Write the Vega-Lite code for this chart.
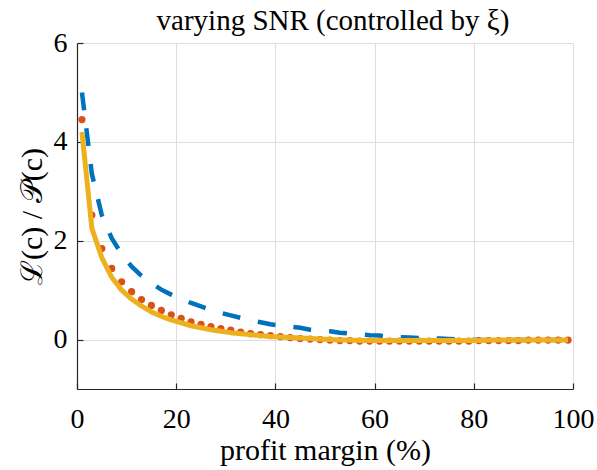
{
  "$schema": "https://vega.github.io/schema/vega-lite/v6.json",
  "autosize": {"type": "none"},
  "width": 496,
  "height": 346,
  "padding": {"left": 77, "top": 43, "right": 24, "bottom": 81},
  "background": "white",
  "title": {"text": "varying SNR (controlled by ξ)", "font": "Liberation Serif, serif", "fontSize": 29, "fontWeight": "normal", "color": "#000000", "offset": -7, "anchor": "middle", "dx": 8},
  "config": {
    "font": "Liberation Serif, serif",
    "view": {"stroke": null},
    "axis": {
      "domainColor": "#262626", "domainWidth": 1.2,
      "tickColor": "#262626", "tickSize": -6, "tickWidth": 1.2,
      "gridColor": "#dedede", "gridWidth": 1,
      "labelFont": "Liberation Serif, serif", "labelFontSize": 28, "labelColor": "#000000",
      "titleFont": "Liberation Serif, serif", "titleFontSize": 30, "titleFontWeight": "normal", "titleColor": "#000000"
    }
  },
  "data": {"values": [
    {"x": 1, "blue": 5.00, "orange": 4.45, "yellow": 4.20},
    {"x": 3, "blue": 3.35, "orange": 2.52, "yellow": 2.25},
    {"x": 5, "blue": 2.52, "orange": 1.84, "yellow": 1.66},
    {"x": 7, "blue": 2.05, "orange": 1.44, "yellow": 1.26},
    {"x": 9, "blue": 1.73, "orange": 1.17, "yellow": 1.00},
    {"x": 11, "blue": 1.48, "orange": 0.97, "yellow": 0.82},
    {"x": 13, "blue": 1.29, "orange": 0.81, "yellow": 0.68},
    {"x": 15, "blue": 1.14, "orange": 0.69, "yellow": 0.56},
    {"x": 17, "blue": 1.01, "orange": 0.59, "yellow": 0.47},
    {"x": 19, "blue": 0.91, "orange": 0.50, "yellow": 0.40},
    {"x": 21, "blue": 0.82, "orange": 0.43, "yellow": 0.34},
    {"x": 23, "blue": 0.74, "orange": 0.36, "yellow": 0.28},
    {"x": 25, "blue": 0.67, "orange": 0.31, "yellow": 0.24},
    {"x": 27, "blue": 0.60, "orange": 0.26, "yellow": 0.20},
    {"x": 29, "blue": 0.54, "orange": 0.22, "yellow": 0.17},
    {"x": 31, "blue": 0.49, "orange": 0.19, "yellow": 0.14},
    {"x": 33, "blue": 0.44, "orange": 0.15, "yellow": 0.12},
    {"x": 35, "blue": 0.39, "orange": 0.12, "yellow": 0.10},
    {"x": 37, "blue": 0.35, "orange": 0.10, "yellow": 0.08},
    {"x": 39, "blue": 0.31, "orange": 0.08, "yellow": 0.06},
    {"x": 41, "blue": 0.28, "orange": 0.06, "yellow": 0.05},
    {"x": 43, "blue": 0.26, "orange": 0.04, "yellow": 0.04},
    {"x": 45, "blue": 0.24, "orange": 0.02, "yellow": 0.03},
    {"x": 47, "blue": 0.20, "orange": 0.01, "yellow": 0.02},
    {"x": 49, "blue": 0.18, "orange": 0.00, "yellow": 0.01},
    {"x": 51, "blue": 0.17, "orange": -0.01, "yellow": 0.00},
    {"x": 53, "blue": 0.14, "orange": -0.02, "yellow": -0.01},
    {"x": 55, "blue": 0.12, "orange": -0.02, "yellow": -0.01},
    {"x": 57, "blue": 0.11, "orange": -0.03, "yellow": -0.02},
    {"x": 59, "blue": 0.09, "orange": -0.03, "yellow": -0.02},
    {"x": 61, "blue": 0.08, "orange": -0.03, "yellow": -0.02},
    {"x": 63, "blue": 0.06, "orange": -0.03, "yellow": -0.02},
    {"x": 65, "blue": 0.05, "orange": -0.03, "yellow": -0.02},
    {"x": 67, "blue": 0.04, "orange": -0.03, "yellow": -0.02},
    {"x": 69, "blue": 0.03, "orange": -0.03, "yellow": -0.02},
    {"x": 71, "blue": 0.02, "orange": -0.03, "yellow": -0.02},
    {"x": 73, "blue": 0.02, "orange": -0.03, "yellow": -0.02},
    {"x": 75, "blue": 0.01, "orange": -0.03, "yellow": -0.02},
    {"x": 77, "blue": 0.00, "orange": -0.03, "yellow": -0.02},
    {"x": 79, "blue": 0.00, "orange": -0.03, "yellow": -0.02},
    {"x": 81, "blue": -0.01, "orange": -0.02, "yellow": -0.02},
    {"x": 83, "blue": -0.01, "orange": -0.02, "yellow": -0.01},
    {"x": 85, "blue": -0.01, "orange": -0.02, "yellow": -0.01},
    {"x": 87, "blue": -0.01, "orange": -0.02, "yellow": -0.01},
    {"x": 89, "blue": -0.01, "orange": -0.02, "yellow": -0.01},
    {"x": 91, "blue": -0.01, "orange": -0.01, "yellow": -0.01},
    {"x": 93, "blue": -0.01, "orange": -0.01, "yellow": -0.01},
    {"x": 95, "blue": -0.01, "orange": -0.01, "yellow": -0.01},
    {"x": 97, "blue": -0.01, "orange": -0.01, "yellow": -0.01},
    {"x": 99, "blue": -0.01, "orange": -0.01, "yellow": -0.01}
  ]},
  "encoding": {
    "x": {"field": "x", "type": "quantitative",
      "scale": {"domain": [0, 100], "nice": false},
      "axis": {"values": [0, 20, 40, 60, 80, 100], "title": "profit margin (%)", "labelPadding": 22, "titlePadding": 2, "labelFlush": false}}
  },
  "layer": [
    {
      "mark": {"type": "line", "color": "#0072BD", "strokeWidth": 4.5, "strokeDash": [18, 18], "strokeCap": "butt", "clip": true},
      "encoding": {
        "y": {"field": "blue", "type": "quantitative",
          "scale": {"domain": [-1, 6], "nice": false, "zero": false},
          "axis": {"values": [0, 2, 4, 6], "title": "ℒ(c) / 𝒫(c)", "labelPadding": 16, "titlePadding": 6, "labelFlush": false}}
      }
    },
    {
      "mark": {"type": "point", "filled": true, "color": "#D95319", "size": 52, "opacity": 1, "clip": true},
      "encoding": {"y": {"field": "orange", "type": "quantitative"}}
    },
    {
      "mark": {"type": "line", "color": "#EDB120", "strokeWidth": 5, "strokeJoin": "round", "clip": true},
      "encoding": {"y": {"field": "yellow", "type": "quantitative"}}
    }
  ]
}
